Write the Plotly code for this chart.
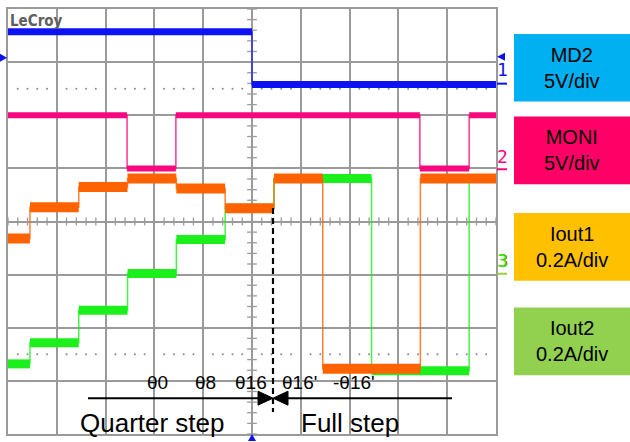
import plotly.graph_objects as go

# ---------------- data (screen divisions: x 0..10, y -4..4) ----------------
md2_edges = [0, 5.0, 10]
md2_levels = [3.57, 2.58]

moni_edges = [0, 2.44, 3.44, 8.44, 9.45, 10]
moni_levels = [2.0, 1.0, 2.0, 1.0, 2.0]

iout1_edges = [0, 0.45, 1.45, 2.45, 3.45, 4.45, 5.45, 6.45, 8.45, 10]
iout1_levels = [-0.32, 0.27, 0.65, 0.81, 0.62, 0.25, 0.81, -2.77, 0.81]

iout2_edges = [0, 0.45, 1.45, 2.45, 3.45, 4.45, 5.45, 7.45, 9.45, 10]
iout2_levels = [-2.68, -2.28, -1.67, -0.98, -0.34, 0.25, 0.81, -2.81, 0.81]

angle_labels = ["θ0", "θ8", "θ16", "θ16'", "-θ16'"]
angle_label_x = [3.07, 4.04, 4.98, 5.98, 7.09]

box_labels = ["MD2<br>5V/div", "MONI<br>5V/div", "Iout1<br>0.2A/div", "Iout2<br>0.2A/div"]
box_colors = ["#00B0F0", "#FF0066", "#FFC000", "#92D050"]

C_BLUE = "#0c12f2"
C_PINK = "#f8087e"
C_ORANGE = "#ff6200"
C_GREEN = "#1cf01c"
C_GRID = "#9a9a9a"

# ---------------- layout geometry ----------------
W, H = 630, 442
L, R, T, B = 8, 134, 7, 8
PW, PH = W - L - R, H - T - B


def px(x):  # pixel -> paper x
    return (x - L) / PW


def py(y):  # pixel -> paper y
    return 1 - (y - T) / PH


def step_xy(edges, levels):
    xs, ys = [], []
    for i, lv in enumerate(levels):
        xs += [edges[i], edges[i + 1]]
        ys += [lv, lv]
    return xs, ys


def band_xy(edges, levels):
    xs, ys = [], []
    for i, lv in enumerate(levels):
        xs += [edges[i], edges[i + 1], None]
        ys += [lv, lv, None]
    return xs, ys


fig = go.Figure()

# graticule: centre-line ticks and dotted rows
tx, ty = [], []
for k in range(51):
    v = k * 0.2
    tx += [v, v, None]
    ty += [-0.075, 0.075, None]
for k in range(41):
    v = -4 + k * 0.2
    tx += [4.9, 5.1, None]
    ty += [v, v, None]
fig.add_trace(go.Scatter(x=tx, y=ty, mode="lines", line=dict(color=C_GRID, width=1.3),
                         hoverinfo="skip", showlegend=False))
dx, dy = [], []
for k in range(51):
    if k % 5 != 0:
        for lv in (2.5, -2.5):
            dx.append(k * 0.2)
            dy.append(lv)
fig.add_trace(go.Scatter(x=dx, y=dy, mode="markers", marker=dict(color="#888", size=2),
                         hoverinfo="skip", showlegend=False))

# channels
channels = [
    (iout2_edges, iout2_levels, C_GREEN, 9),
    (iout1_edges, iout1_levels, C_ORANGE, 10),
    (moni_edges, moni_levels, C_PINK, 6),
    (md2_edges, md2_levels, C_BLUE, 7),
]
for edges, levels, col, wdt in channels:
    sx, sy = step_xy(edges, levels)
    fig.add_trace(go.Scatter(x=sx, y=sy, mode="lines", line=dict(color=col, width=1.5),
                             opacity=0.8, hoverinfo="skip", showlegend=False))
    bx, by = band_xy(edges, levels)
    fig.add_trace(go.Scatter(x=bx, y=by, mode="lines", line=dict(color=col, width=wdt),
                             hoverinfo="skip", showlegend=False))

shapes = []
annotations = []

# dashed divider and step arrows
shapes.append(dict(type="line", xref="paper", yref="paper", x0=px(273), x1=px(273),
                   y0=py(207), y1=py(412), line=dict(color="black", width=2.2, dash="6px,4px")))
shapes.append(dict(type="line", xref="paper", yref="paper", x0=px(88), x1=px(260),
                   y0=py(398), y1=py(398), line=dict(color="black", width=2)))
shapes.append(dict(type="line", xref="paper", yref="paper", x0=px(286), x1=px(452),
                   y0=py(398), y1=py(398), line=dict(color="black", width=2)))
for bx in (258, 288):
    shapes.append(dict(type="path", xref="paper", yref="paper",
                       path=f"M {px(273)},{py(398)} L {px(bx)},{py(391)} L {px(bx)},{py(405)} Z",
                       fillcolor="black", line=dict(color="black", width=1)))

# right-hand channel boxes
box_tops = [32, 115, 212, 307]
for lab, col, top in zip(box_labels, box_colors, box_tops):
    shapes.append(dict(type="rect", xref="paper", yref="paper", x0=px(514), x1=px(631),
                       y0=py(top), y1=py(top + 68), fillcolor=col, line=dict(width=0), layer="below"))
    annotations.append(dict(xref="paper", yref="paper", x=px(572), y=py(top + 34),
                            text=lab, showarrow=False, xanchor="center", yanchor="middle",
                            font=dict(family="Liberation Sans, Arial", size=20, color="black")))

# channel markers on the screen edge
shapes.append(dict(type="path", xref="paper", yref="paper",
                   path=f"M {px(497)},{py(55)} L {px(505)},{py(51)} L {px(505)},{py(59)} Z",
                   fillcolor=C_BLUE, line=dict(width=0)))
shapes.append(dict(type="path", xref="paper", yref="paper",
                   path=f"M {px(7)},{py(56)} L {px(0)},{py(52)} L {px(0)},{py(60)} Z",
                   fillcolor=C_BLUE, line=dict(width=0)))
shapes.append(dict(type="path", xref="paper", yref="paper",
                   path=f"M {px(252)},{py(434)} L {px(248)},{py(441)} L {px(256)},{py(441)} Z",
                   fillcolor=C_BLUE, line=dict(width=0)))
for yy, col in ((82, C_BLUE), (168, C_PINK), (273, "#9acd32")):
    shapes.append(dict(type="line", xref="paper", yref="paper", x0=px(497), x1=px(507),
                       y0=py(yy), y1=py(yy), line=dict(color=col, width=2)))
for txt, yy, col, sh in (("1", 68, C_BLUE, 0), ("2", 155, C_PINK, 0),
                         ("3", 260, C_ORANGE, 1), ("3", 260, C_GREEN, 0)):
    annotations.append(dict(xref="paper", yref="paper", x=px(502), y=py(yy), text=txt,
                            showarrow=False, xanchor="center", yanchor="middle", xshift=sh,
                            font=dict(family="DejaVu Sans Mono", size=18, color=col)))

# angle labels
for lab, xv in zip(angle_labels, angle_label_x):
    annotations.append(dict(xref="x", yref="paper", x=xv, y=py(382), text=lab, showarrow=False,
                            xanchor="center", yanchor="middle",
                            font=dict(family="Liberation Sans, Arial", size=19, color="black")))

annotations.append(dict(xref="paper", yref="paper", x=px(152), y=py(423), text="Quarter step",
                        showarrow=False, xanchor="center", yanchor="middle",
                        font=dict(family="Liberation Sans, Arial", size=26, color="black")))
annotations.append(dict(xref="paper", yref="paper", x=px(350), y=py(423), text="Full step",
                        showarrow=False, xanchor="center", yanchor="middle",
                        font=dict(family="Liberation Sans, Arial", size=26, color="black")))
annotations.append(dict(xref="paper", yref="paper", x=px(8), y=py(8), text="<b>LeCroy</b>",
                        showarrow=False, xanchor="left", yanchor="top",
                        font=dict(family="DejaVu Sans Condensed, DejaVu Sans", size=15, color="#5f5f5f")))

axis_common = dict(showgrid=True, gridcolor=C_GRID, gridwidth=1.6, zeroline=False,
                   showline=True, linecolor=C_GRID, linewidth=1.6, mirror=True,
                   showticklabels=False, ticks="", fixedrange=True)
fig.update_layout(
    width=W, height=H, margin=dict(l=L, r=R, t=T, b=B),
    paper_bgcolor="white", plot_bgcolor="white",
    xaxis=dict(range=[0, 10], dtick=1, **axis_common),
    yaxis=dict(range=[-4, 4], dtick=1, **axis_common),
    shapes=shapes, annotations=annotations, showlegend=False,
)
fig.write_html("out.html", config={"displayModeBar": False},
               post_script="document.body.style.margin='0';document.body.style.padding='0';"
                           "document.body.style.overflow='hidden';")
